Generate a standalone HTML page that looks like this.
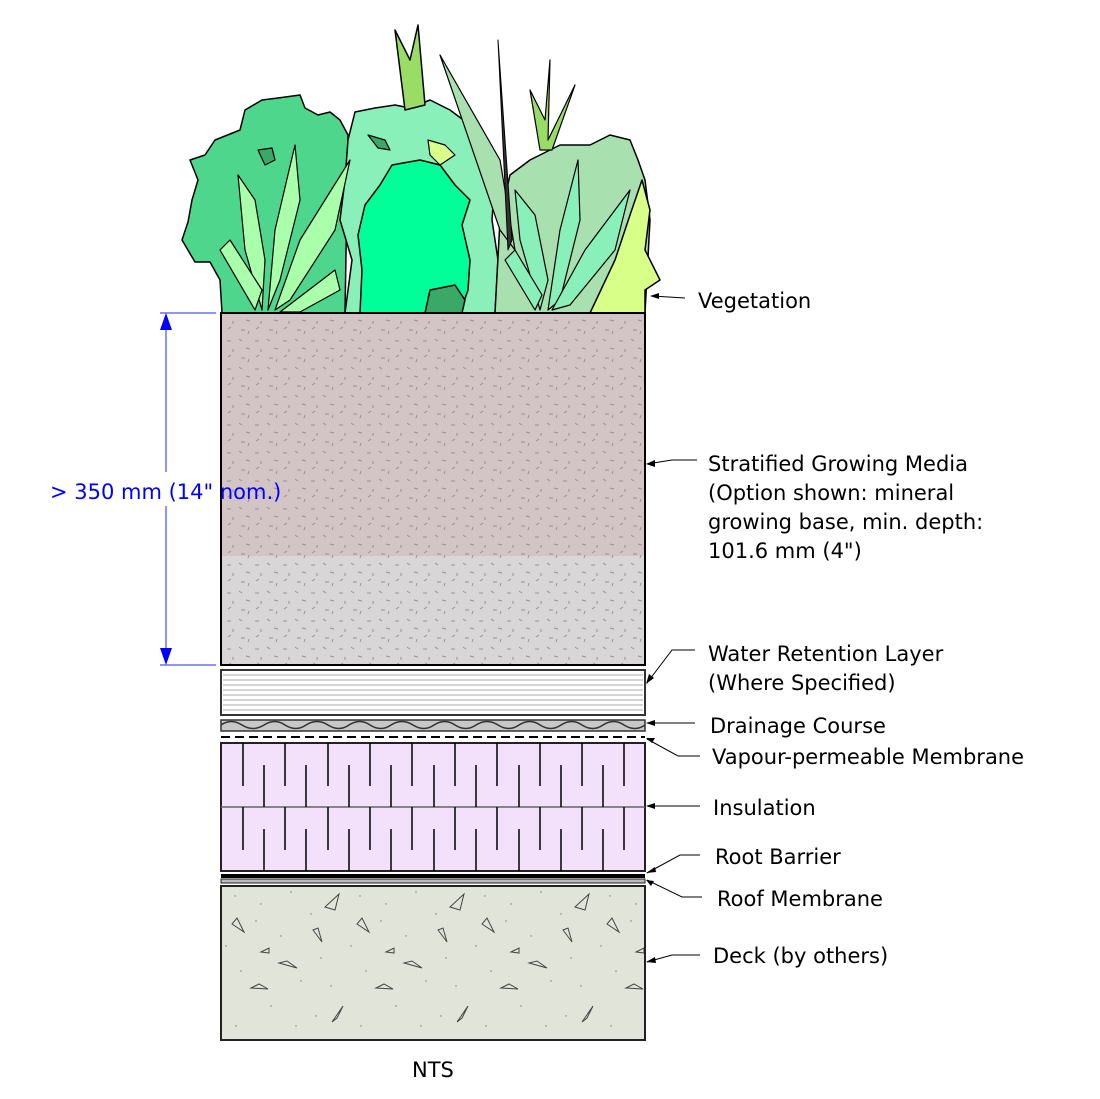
<!DOCTYPE html>
<html><head><meta charset="utf-8"><style>
html,body{margin:0;padding:0;background:#fff;}
svg{display:block;}
text{font-family:"DejaVu Sans","Liberation Sans",sans-serif;}
</style></head><body>
<svg width="1100" height="1099" viewBox="0 0 1100 1099" xmlns="http://www.w3.org/2000/svg">
<defs>
<pattern id="soil" width="28" height="28" patternUnits="userSpaceOnUse">
<path d="M3 5l4 0M15 3l3 2M9 13l0 3M22 12l4 1M4 21l3-2M17 22l4 0M24 26l1 -3" stroke="#9a8e90" stroke-width="1"/>
</pattern>
<pattern id="deckp" width="125" height="150" patternUnits="userSpaceOnUse" x="221" y="886">
<path d="M118 8l-4 16l-10-3zM11 38l12 8l-7-14zM92 44l9 12l-4-14zM40 66l8-4l0 5zM58 77l18 5l-10-7zM30 102l17 1l-9-5zM122 120l-6 12l-5 4z" fill="none" stroke="#444" stroke-width="1"/>
<g fill="#777"><circle cx="14" cy="10" r=".7"/><circle cx="40" cy="18" r=".7"/><circle cx="70" cy="6" r=".7"/><circle cx="90" cy="28" r=".7"/><circle cx="5" cy="60" r=".7"/><circle cx="60" cy="50" r=".7"/><circle cx="100" cy="72" r=".7"/><circle cx="20" cy="85" r=".7"/><circle cx="80" cy="95" r=".7"/><circle cx="50" cy="120" r=".7"/><circle cx="15" cy="140" r=".7"/><circle cx="95" cy="130" r=".7"/><circle cx="110" cy="100" r=".7"/><circle cx="35" cy="35" r=".7"/><circle cx="75" cy="140" r=".7"/></g>
</pattern>
</defs>

<!-- vegetation -->
<g stroke="#000" stroke-width="1.5" stroke-linejoin="round">
<path d="M222 313 L220 280 L210 262 L195 262 L182 240 L188 222 L192 200 L198 180 L190 160 L205 155 L215 140 L240 130 L245 110 L262 100 L278 98 L300 95 L305 108 L318 115 L330 112 L340 120 L348 135 L345 313 Z" fill="#4dd68c"/>
<path d="M345 313 L352 260 L340 220 L345 180 L348 140 L355 112 L375 108 L395 105 L410 108 L430 100 L450 110 L470 125 L485 150 L495 175 L492 220 L498 260 L495 313 Z" fill="#88f0b8"/>
<path d="M360 313 L362 270 L358 235 L365 205 L380 185 L392 165 L420 160 L440 165 L455 185 L470 200 L462 225 L470 260 L468 290 L460 313 Z" fill="#00ff99"/>
<path d="M425 313 L430 290 L455 285 L465 300 L462 313 Z" fill="#3aa866"/>
<path d="M495 313 L500 220 L510 175 L530 160 L560 145 L590 145 L610 135 L630 140 L638 160 L645 180 L650 220 L645 313 Z" fill="#a8e0b0"/>
<path d="M590 313 L615 260 L630 215 L642 180 L650 210 L645 250 L660 280 L645 290 L645 313 Z" fill="#d8ff88"/>
<path d="M405 110 L395 30 L410 60 L418 25 L425 105 Z" fill="#99dd66"/>
<path d="M500 230 L440 55 L500 160 L515 250 Z" fill="#a8e0b0" stroke-width="1.2"/>
<path d="M508 250 L498 40 L512 240 Z" fill="#333" stroke-width="1"/>
<path d="M540 150 L530 90 L545 120 L550 60 L548 140 L575 85 L552 150 Z" fill="#99dd66" stroke-width="1.2"/>
<g fill="#aaffaa" stroke-width="1.2">
<path d="M262 310 L245 250 L238 175 L255 200 L265 260 Z"/>
<path d="M268 310 L275 230 L295 145 L300 200 L280 280 Z"/>
<path d="M275 310 L300 240 L350 160 L335 230 L290 300 Z"/>
<path d="M255 310 L220 250 L230 240 L262 290 Z"/>
<path d="M280 312 L335 270 L340 290 L300 312 Z"/>
</g>
<g fill="#88f0b8" stroke-width="1.2">
<path d="M540 310 L520 240 L515 190 L535 215 L548 280 Z"/>
<path d="M548 310 L560 230 L578 160 L580 220 L560 300 Z"/>
<path d="M552 310 L585 250 L630 190 L615 250 L570 305 Z"/>
<path d="M535 310 L505 260 L515 250 L542 295 Z"/>
</g>
<path d="M368 135 L385 140 L390 150 L378 148 Z" fill="#3aa866" stroke-width="1.2"/>
<path d="M258 150 L272 148 L275 160 L265 165 Z" fill="#3aa866" stroke-width="1.2"/>
<path d="M428 140 L445 145 L455 155 L440 165 L430 155 Z" fill="#d8ff88" stroke-width="1.2"/>
</g>

<!-- growing media -->
<rect x="221" y="313" width="424" height="243" fill="#d3c4c6"/>
<rect x="221" y="556" width="424" height="109" fill="#d9d6d8"/>
<rect x="221" y="313" width="424" height="352" fill="url(#soil)"/>
<rect x="221" y="313" width="424" height="352" fill="none" stroke="#000" stroke-width="2"/>

<!-- water retention -->
<rect x="221" y="670" width="424" height="45" fill="#fff" stroke="#333" stroke-width="2"/>
<g stroke="#aaa" stroke-width="1">
<path d="M223 675 H643 M223 680 H643 M223 685 H643 M223 690 H643 M223 695 H643 M223 700 H643 M223 705 H643 M223 710 H643"/>
</g>

<!-- drainage -->
<path d="M221 720 H645 V731 H221 Z" fill="#c8c8c8" stroke="#333" stroke-width="1.5"/>
<path d="M221 725 Q231 718 242 725 Q253 732 264 725 Q275 718 285 725 Q296 732 306 725 Q317 718 328 725 Q339 732 349 725 Q360 718 370 725 Q381 732 391 725 Q402 718 413 725 Q424 732 434 725 Q445 718 455 725 Q466 732 476 725 Q487 718 498 725 Q509 732 519 725 Q530 718 540 725 Q551 732 561 725 Q572 718 582 725 Q593 732 603 725 Q614 718 624 725 Q635 732 645 725" fill="none" stroke="#333" stroke-width="1.5"/>
<line x1="221" y1="737" x2="645" y2="737" stroke="#000" stroke-width="2" stroke-dasharray="9,5"/>

<!-- insulation -->
<rect x="221" y="743" width="424" height="128" fill="#f3e1fb" stroke="#222" stroke-width="2"/>
<line x1="221" y1="807" x2="645" y2="807" stroke="#666" stroke-width="1.5"/>
<g stroke="#000" stroke-width="1.5">
<path d="M243 743V786M285 743V786M328 743V786M370 743V786M412 743V786M455 743V786M497 743V786M540 743V786M582 743V786M624 743V786"/>
<path d="M264 765V807M306 765V807M349 765V807M391 765V807M434 765V807M476 765V807M519 765V807M561 765V807M603 765V807"/>
<path d="M243 807V850M285 807V850M328 807V850M370 807V850M412 807V850M455 807V850M497 807V850M540 807V850M582 807V850M624 807V850"/>
<path d="M264 829V871M306 829V871M349 829V871M391 829V871M434 829V871M476 829V871M519 829V871M561 829V871M603 829V871"/>
</g>

<!-- root barrier / membrane -->
<rect x="221" y="874" width="424" height="4" fill="#000"/>
<rect x="221" y="879" width="424" height="4" fill="#bbb" stroke="#222" stroke-width="1"/>

<!-- deck -->
<rect x="221" y="886" width="424" height="154" fill="#e1e4d8"/>
<rect x="221" y="886" width="424" height="154" fill="url(#deckp)"/>
<rect x="221" y="886" width="424" height="154" fill="none" stroke="#222" stroke-width="2"/>

<!-- dimension -->
<g stroke="#6f6fff" stroke-width="1.5">
<line x1="160" y1="313" x2="216" y2="313"/>
<line x1="160" y1="665" x2="216" y2="665"/>
<line x1="166" y1="325" x2="166" y2="472"/>
<line x1="166" y1="506" x2="166" y2="655"/>
</g>
<path d="M166 313 L160 330 L172 330 Z M166 665 L160 648 L172 648 Z" fill="#0000ff"/>
<text x="50" y="499" font-size="21" fill="#0000ff">&gt; 350 mm (14" nom.)</text>

<!-- leaders -->
<g stroke="#000" stroke-width="1" fill="none">
<path d="M652 296 L685 298"/>
<path d="M647 464 L672 460 H697"/>
<path d="M647 683 L672 650 H695"/>
<path d="M647 723 H695"/>
<path d="M647 739 L678 756 H700"/>
<path d="M647 806 H700"/>
<path d="M647 873 L680 855 H700"/>
<path d="M647 880 L682 897 H702"/>
<path d="M647 962 L672 955 H700"/>
</g>
<g fill="#000">
<path d="M650 296l9-3l0 6z"/>
<path d="M646 464l9-4l0 7z"/>
<path d="M646 684l3-10l5 4z"/>
<path d="M646 723l9-3l0 6z"/>
<path d="M646 738l9 0l-3 5z"/>
<path d="M646 806l9-3l0 6z"/>
<path d="M646 873l9-6l1 5z"/>
<path d="M646 880l8 1l-3 5z"/>
<path d="M646 962l9-5l1 6z"/>
</g>
<g font-size="21" fill="#000">
<text x="698" y="308">Vegetation</text>
<text x="708" y="471">Stratified Growing Media</text>
<text x="708" y="500">(Option shown: mineral</text>
<text x="708" y="529">growing base, min. depth:</text>
<text x="708" y="558">101.6 mm (4")</text>
<text x="708" y="661">Water Retention Layer</text>
<text x="708" y="690">(Where Specified)</text>
<text x="710" y="733">Drainage Course</text>
<text x="712" y="764">Vapour-permeable Membrane</text>
<text x="713" y="815">Insulation</text>
<text x="715" y="864">Root Barrier</text>
<text x="717" y="906">Roof Membrane</text>
<text x="713" y="963">Deck (by others)</text>
<text x="412" y="1077">NTS</text>
</g>
</svg>
</body></html>
